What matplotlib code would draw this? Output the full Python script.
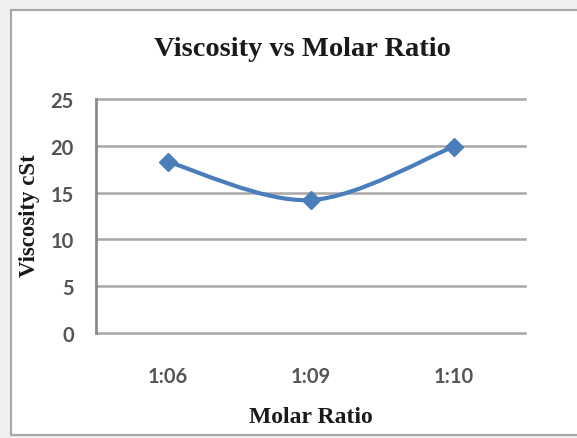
import matplotlib
matplotlib.use("Agg")
import matplotlib.pyplot as plt
from matplotlib.patches import Rectangle, PathPatch
from matplotlib.path import Path
import numpy as np

# data
ratios = ["1:06", "1:09", "1:10"]
viscosity = [18.3, 14.2, 19.9]
y_ticks = [0, 5, 10, 15, 20, 25]

W, H = 577, 439
fig = plt.figure(figsize=(W / 100, H / 100), dpi=100)
fig.patch.set_facecolor("#eef0f2")

# white chart box with grey frame
fig.patches.append(Rectangle((11 / W, 3 / H), 1.0, 1 - 14 / H, transform=fig.transFigure,
                             facecolor="white", edgecolor="#a8a8a8", linewidth=1.6, zorder=-5))

ax = fig.add_axes([96 / W, 1 - 334 / H, (525 - 96) / W, (334 - 100) / H])
ax.set_facecolor("none")

x = np.arange(len(ratios))

# Excel style smoothed line (Catmull-Rom -> bezier)
pts = np.column_stack([x, viscosity]).astype(float)
verts = [pts[0]]
codes = [Path.MOVETO]
for i in range(len(pts) - 1):
    p0 = pts[i - 1] if i > 0 else pts[i]
    p1, p2 = pts[i], pts[i + 1]
    p3 = pts[i + 2] if i + 2 < len(pts) else pts[i + 1]
    c1 = p1 + (p2 - p0) / 6
    c2 = p2 - (p3 - p1) / 6
    verts += [c1, c2, p2]
    codes += [Path.CURVE4] * 3
ax.add_patch(PathPatch(Path(verts, codes), facecolor="none", edgecolor="#4a7ebb",
                       linewidth=3, zorder=3, capstyle="round", joinstyle="round"))
ax.plot(x, viscosity, linestyle="none", marker="D", markersize=9.5,
        color="#4a7ebb", zorder=4)

ax.set_xlim(-0.5, len(ratios) - 0.5)
ax.set_ylim(0, 25)
ax.set_yticks(y_ticks)
ax.set_xticks(x)
ax.set_xticklabels(ratios)

ax.grid(axis="y", color="#a8a8a8", linewidth=1.8)
for gl in ax.get_ygridlines():
    gl.set_clip_on(False)
ax.set_axisbelow(True)

for s in ["top", "right", "bottom"]:
    ax.spines[s].set_visible(False)
ax.spines["left"].set_color("#8a8a8a")
ax.spines["left"].set_linewidth(2)

ax.tick_params(length=0, labelsize=14.5, colors="#555555")
ax.tick_params(axis="y", pad=16)
ax.tick_params(axis="x", pad=24)
for lab in ax.get_xticklabels() + ax.get_yticklabels():
    lab.set_fontfamily("Lato")
    lab.set_fontweight("bold")

serif = {"family": "Liberation Serif", "weight": "bold", "color": "#1a1a1a"}
fig.text(302 / W, 1 - 50 / H, "Viscosity vs Molar Ratio", ha="center", va="center",
         fontsize=20.5, **serif)
fig.text(311 / W, 1 - 418 / H, "Molar Ratio", ha="center", va="center",
         fontsize=17, **serif)
fig.text(30 / W, 1 - 216 / H, "Viscosity cSt", ha="center", va="center",
         rotation=90, fontsize=16.5, **serif)

fig.savefig("out.png", dpi=100, facecolor=fig.get_facecolor())
